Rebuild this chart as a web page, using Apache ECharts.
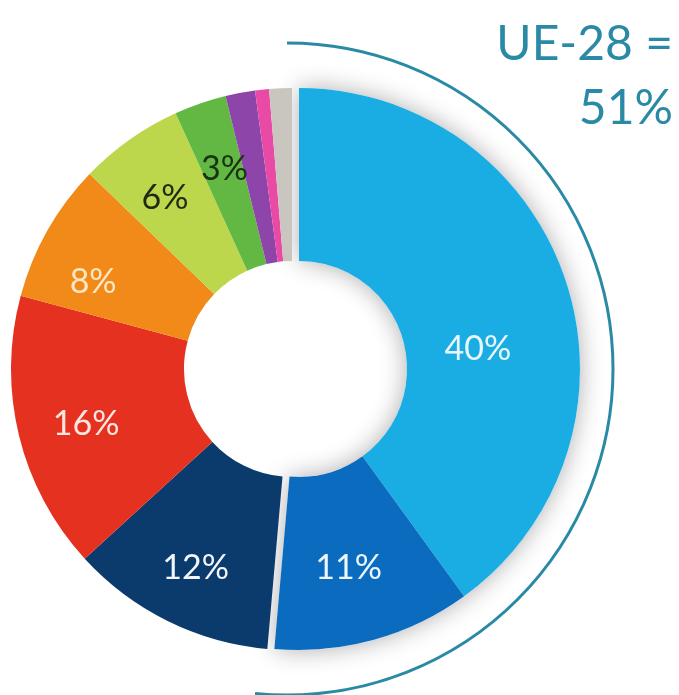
<!DOCTYPE html>
<html>
<head>
<meta charset="utf-8">
<script src="https://cdn.jsdelivr.net/npm/echarts@6/dist/echarts.min.js"></script>
<style>
    html, body { margin: 0; background: #fff; }
    #main { width: 679px; height: 695px; }
</style>
</head>
<body>
<div id="main"></div>
<script>
    // shares in %, clockwise from 12 o'clock
    var shares = [40, 11.4, 11.8, 16, 8, 6, 3, 1.7, 0.8, 1.3];
    var shareLabels = ['40%', '11%', '12%', '16%', '8%', '6%', '3%', '', '', ''];
    var ueCount = 2; // first two slices make the UE-28 group

    var sliceColors = ['#1aade3', '#0b6cbf', '#0b3a6c', '#e5311f', '#f28a1a', '#bdd74d', '#63b844', '#8e45a9', '#e94aa5', '#c9c6c0'];
    var labelColors = ['#e9f7fc', '#eef6fc', '#f2f5f9', '#fde6df', '#fbe7c4', '#1f2a10', '#1a3312', '#fff', '#fff', '#fff'];
    var labelNudge = [[-9, 41], [-3, 9], [-9, 22], [-14, 8], [-27, 10], [-13, -10], [-3, -13], [0, 0], [0, 0], [0, 0]];
    var teal = '#2a8aa5';
    var hidden = {color: 'rgba(0,0,0,0)'};

    var ueTotal = 0;
    shares.slice(0, ueCount).forEach(function (v) { ueTotal += v; });

    function buildData(inGroup){
        return shares.map(function (v, i) {
            var mine = (i < ueCount) === inGroup;
            return {
                value: v,
                itemStyle: mine ? {color: sliceColors[i]} : hidden,
                label: {show: mine && shareLabels[i] !== '', color: labelColors[i]}
            };
        });
    }

    function pieSeries(center, inGroup){
        return {
            type: 'pie',
            center: center,
            radius: [108, 281],
            startAngle: 90,
            clockwise: true,
            avoidLabelOverlap: false,
            silent: true,
            animation: false,
            label: {
                position: 'inside',
                formatter: function (p) { return shareLabels[p.dataIndex]; },
                fontFamily: 'Lato',
                fontSize: 34
            },
            labelLine: {show: false},
            labelLayout: function (p) {
                var n = labelNudge[p.dataIndex];
                return {dx: n[0], dy: n[1]};
            },
            data: buildData(inGroup)
        };
    }

    var chart = echarts.init(document.getElementById('main'));
    chart.setOption({
        backgroundColor: '#fff',
        graphic: [
            {
                type: 'arc',
                shape: {cx: 287, cy: 369, r: 326, startAngle: -Math.PI / 2, endAngle: 1.669, clockwise: true},
                style: {stroke: teal, lineWidth: 3, fill: null}
            },
            {
                type: 'text',
                x: 673,
                y: 13,
                style: {
                    text: 'UE-28 =\n' + Math.round(ueTotal) + '%',
                    font: '48px Lato',
                    fill: teal,
                    align: 'right',
                    lineHeight: 64
                }
            }
        ],
        series: [
            // shadow under the whole UE-28 block
            {
                type: 'pie',
                center: [299, 369],
                radius: [108, 281],
                startAngle: 90,
                silent: true,
                animation: false,
                label: {show: false},
                data: [
                    {value: ueTotal, itemStyle: {color: '#fff', shadowBlur: 24, shadowColor: 'rgba(0,0,0,0.32)'}},
                    {value: 100 - ueTotal, itemStyle: hidden}
                ]
            },
            pieSeries([292, 369], false),
            pieSeries([299, 369], true)
        ]
    });
</script>
</body>
</html>
